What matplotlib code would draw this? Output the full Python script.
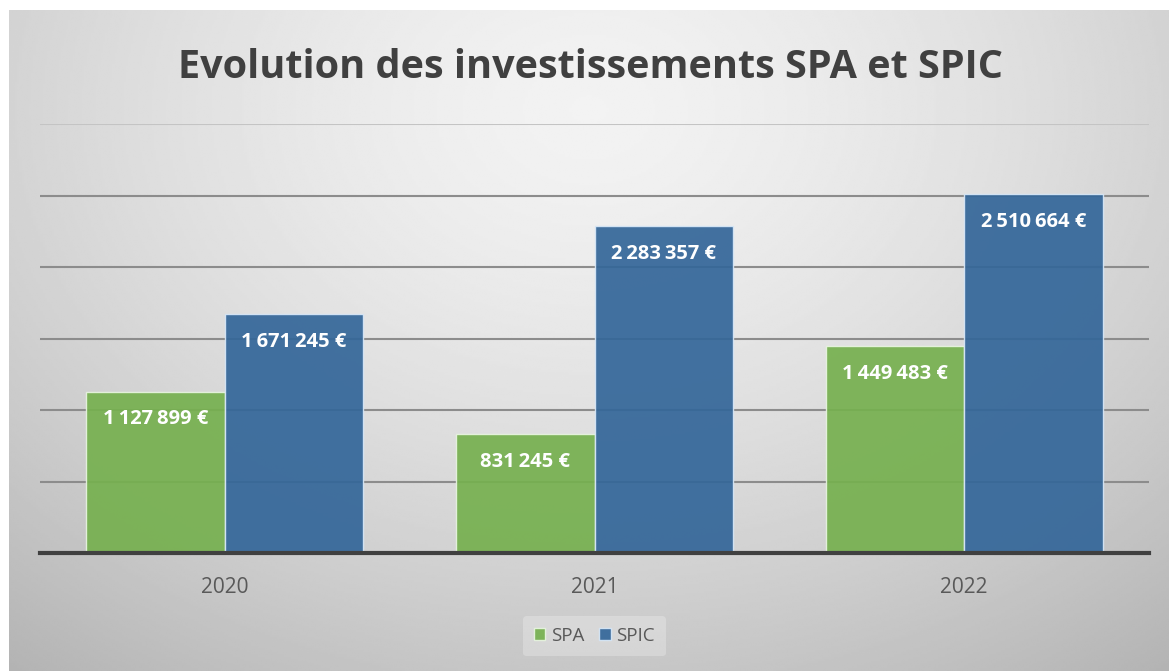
import numpy as np
import matplotlib.pyplot as plt

# data
years = ["2020", "2021", "2022"]
spa = [1127899, 831245, 1449483]
spic = [1671245, 2283357, 2510664]
series_names = ["SPA", "SPIC"]
title = "Evolution des investissements SPA et SPIC"

def fmt_eur(v):
    return "{:,}".format(v).replace(",", "\u202f") + " €"

plt.rcParams['font.family'] = ['Open Sans', 'DejaVu Sans']

fig = plt.figure(figsize=(11.69, 6.71), dpi=100)
fig.patch.set_facecolor("white")

# grey card with a radial gradient behind everything
bg = fig.add_axes([9/1169, 0, 1 - 9/1169, 661/671])
bg.set_axis_off()
yy, xx = np.mgrid[0:1:300j, 0:1:500j]
r = np.sqrt(((xx - 0.5) / 0.75)**2 + ((yy - 0.15) / 1.0)**2)
shade = 0.95 - 0.22 * r**1.5
bg.imshow(shade, cmap="gray", vmin=0, vmax=1, aspect="auto",
          extent=(0, 1, 1, 0), interpolation="bilinear")
bg.set_xlim(0, 1)
bg.set_ylim(1, 0)

ax = fig.add_axes([40/1169, (671-553)/671, 1109/1169, 429/671])
ax.patch.set_alpha(0)

x = np.arange(len(years))
w = 0.375
b1 = ax.bar(x - w/2, spa, w, color="#76b04f", alpha=0.92,
            edgecolor="#e8f5e0", linewidth=1, label=series_names[0], zorder=3)
b2 = ax.bar(x + w/2, spic, w, color="#336699", alpha=0.92,
            edgecolor="#d8e8f8", linewidth=1, label=series_names[1], zorder=3)

for bars, vals in [(b1, spa), (b2, spic)]:
    for rect, v in zip(bars, vals):
        ax.annotate(fmt_eur(v), (rect.get_x() + rect.get_width()/2, v),
                    xytext=(0, -20), textcoords="offset points",
                    ha="center", va="center", color="white",
                    fontsize=14.5, fontweight="bold", zorder=5,
                    family=['Open Sans', 'DejaVu Sans'])

ax.set_xlim(-0.5, 2.5)
ax.set_ylim(0, 3000000)
ax.set_yticks(np.arange(0, 3000001, 500000))
ax.yaxis.grid(True, color="#8c8c8c", linewidth=1.5, zorder=0)
ax.get_ygridlines()[-1].set_color("#c4c4c4")
ax.set_axisbelow(True)
ax.tick_params(axis="y", left=False, labelleft=False)
ax.tick_params(axis="x", bottom=False, pad=14, labelsize=15, labelcolor="#595959")
ax.set_xticks(x)
ax.set_xticklabels(years)
for s in ["top", "right", "left"]:
    ax.spines[s].set_visible(False)
ax.spines["bottom"].set_color("#404040")
ax.spines["bottom"].set_linewidth(3)
ax.spines["bottom"].set_zorder(4)

fig.text(0.505, 1 - 68/671, title, ha="center", va="center",
         fontsize=28.5, fontweight="bold", color="#404040")

leg = ax.legend(loc="center", bbox_to_anchor=(0.5, -(636-553)/429),
                ncol=2, frameon=True, fontsize=13.5, handlelength=0.6,
                handleheight=0.6, handletextpad=0.3, columnspacing=0.8,
                borderpad=0.6)
leg.get_frame().set_facecolor("white")
leg.get_frame().set_alpha(0.25)
leg.get_frame().set_edgecolor("none")
for t in leg.get_texts():
    t.set_color("#595959")

fig.savefig("out.png", dpi=100)
